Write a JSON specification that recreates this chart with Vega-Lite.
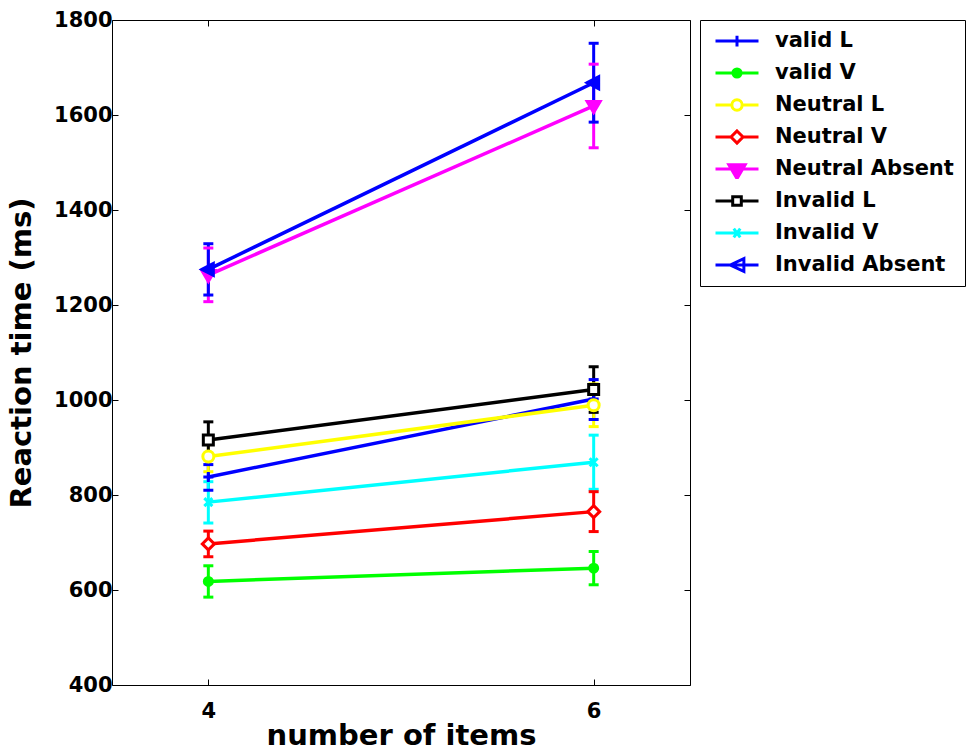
{
  "$schema": "https://vega.github.io/schema/vega-lite/v6.json",
  "width": 578,
  "height": 665,
  "autosize": {"type": "none"},
  "padding": {"left": 112, "top": 20, "right": 283, "bottom": 71},
  "background": "white",
  "data": {
    "values": [
      {"series": "valid L", "n": 4, "rt": 838, "lo": 810, "hi": 864},
      {"series": "valid L", "n": 6, "rt": 1002, "lo": 959, "hi": 1043},
      {"series": "valid V", "n": 4, "rt": 618, "lo": 585, "hi": 651},
      {"series": "valid V", "n": 6, "rt": 646, "lo": 611, "hi": 681},
      {"series": "Neutral L", "n": 4, "rt": 881, "lo": 849, "hi": 913},
      {"series": "Neutral L", "n": 6, "rt": 989, "lo": 944, "hi": 1034},
      {"series": "Neutral V", "n": 4, "rt": 697, "lo": 670, "hi": 724},
      {"series": "Neutral V", "n": 6, "rt": 765, "lo": 723, "hi": 807},
      {"series": "Neutral Absent", "n": 4, "rt": 1263, "lo": 1207, "hi": 1320},
      {"series": "Neutral Absent", "n": 6, "rt": 1619, "lo": 1531, "hi": 1707},
      {"series": "Invalid L", "n": 4, "rt": 916, "lo": 878, "hi": 954},
      {"series": "Invalid L", "n": 6, "rt": 1022, "lo": 974, "hi": 1070},
      {"series": "Invalid V", "n": 4, "rt": 785, "lo": 741, "hi": 828},
      {"series": "Invalid V", "n": 6, "rt": 869, "lo": 812, "hi": 926},
      {"series": "Invalid Absent", "n": 4, "rt": 1275, "lo": 1221, "hi": 1329},
      {"series": "Invalid Absent", "n": 6, "rt": 1668, "lo": 1585, "hi": 1751}
    ]
  },
  "config": {
    "view": {"stroke": "black", "strokeWidth": 1},
    "font": "DejaVu Sans",
    "axis": {
      "labelFont": "DejaVu Sans", "labelFontWeight": "bold", "labelFontSize": 21, "labelColor": "black",
      "titleFont": "DejaVu Sans", "titleFontWeight": "bold", "titleFontSize": 29, "titleColor": "black",
      "grid": false, "domain": false, "tickColor": "black", "tickWidth": 1, "tickSize": -6
    },
    "legend": {
      "orient": "right", "offset": 9, "padding": 11,
      "strokeColor": "black", "fillColor": "white",
      "labelFont": "DejaVu Sans", "labelFontWeight": "bold", "labelFontSize": 21, "labelColor": "black",
      "labelLimit": 400, "symbolSize": 1849, "symbolStrokeWidth": 3, "symbolOpacity": 1,
      "clipHeight": 20, "rowPadding": 11, "labelOffset": 15, "symbolOffset": 3
    }
  },
  "resolve": {
    "scale": {"shape": "independent", "fill": "independent", "stroke": "independent"},
    "axis": {"x": "independent", "y": "independent"}
  },
  "layer": [
    {
      "mark": {"type": "rule", "strokeWidth": 3},
      "encoding": {
        "x": {"field": "n", "type": "quantitative", "scale": {"domain": [3.5, 6.5], "nice": false, "zero": false},
              "axis": {"orient": "bottom", "values": [4, 6], "format": "d", "title": "number of items", "labelPadding": 21, "titlePadding": 0}},
        "y": {"field": "lo", "type": "quantitative", "scale": {"domain": [400, 1800], "nice": false, "zero": false},
              "axis": {"orient": "left", "values": [400, 600, 800, 1000, 1200, 1400, 1600, 1800], "format": "d", "title": "Reaction time (ms)", "labelPadding": 6, "titlePadding": 17}},
        "y2": {"field": "hi"},
        "color": {"field": "series", "type": "nominal",
                  "scale": {"domain": ["valid L", "valid V", "Neutral L", "Neutral V", "Neutral Absent", "Invalid L", "Invalid V", "Invalid Absent"],
                            "range": ["#0000ff", "#00ff00", "#ffff00", "#ff0000", "#ff00ff", "#000000", "#00ffff", "#0000ff"]},
                  "legend": null}
      }
    },
    {
      "mark": {"type": "point", "shape": "stroke", "size": 100, "strokeWidth": 3, "filled": false, "opacity": 1},
      "encoding": {
        "x": {"field": "n", "type": "quantitative", "axis": {"orient": "top", "values": [4, 6], "labels": false, "title": null}},
        "y": {"field": "lo", "type": "quantitative", "axis": {"orient": "right", "values": [400, 600, 800, 1000, 1200, 1400, 1600, 1800], "labels": false, "title": null}},
        "color": {"field": "series", "type": "nominal", "legend": null}
      }
    },
    {
      "mark": {"type": "point", "shape": "stroke", "size": 100, "strokeWidth": 3, "filled": false, "opacity": 1},
      "encoding": {
        "x": {"field": "n", "type": "quantitative", "axis": null},
        "y": {"field": "hi", "type": "quantitative", "axis": null},
        "color": {"field": "series", "type": "nominal", "legend": null}
      }
    },
    {
      "mark": {"type": "line", "strokeWidth": 3.5},
      "encoding": {
        "x": {"field": "n", "type": "quantitative", "axis": null},
        "y": {"field": "rt", "type": "quantitative", "axis": null},
        "color": {"field": "series", "type": "nominal", "legend": null}
      }
    },
    {
      "mark": {"type": "point", "size": 400, "strokeWidth": 3, "filled": false, "opacity": 1},
      "encoding": {
        "x": {"field": "n", "type": "quantitative", "axis": null},
        "y": {"field": "rt", "type": "quantitative", "axis": null},
        "color": {"field": "series", "type": "nominal", "legend": null},
        "shape": {"field": "series", "type": "nominal", "legend": null,
                  "scale": {"domain": ["valid L", "valid V", "Neutral L", "Neutral V", "Neutral Absent", "Invalid L", "Invalid V", "Invalid Absent"],
                            "range": ["M-0.5,0H0.5M0,-0.5V0.5",
                                      "M0.4,0A0.4,0.4,0,1,1,-0.4,0A0.4,0.4,0,1,1,0.4,0Z",
                                      "M0.55,0A0.55,0.55,0,1,1,-0.55,0A0.55,0.55,0,1,1,0.55,0Z",
                                      "M0,-0.6L0.6,0L0,0.6L-0.6,0Z",
                                      "M-0.65,-0.45L0.65,-0.45L0,0.65Z",
                                      "M-0.5,-0.5H0.5V0.5H-0.5Z",
                                      "M-0.4,-0.4L0.4,0.4M-0.4,0.4L0.4,-0.4",
                                      "M-0.65,0L0.5,-0.6L0.5,0.6Z"]}},
        "fill": {"field": "series", "type": "nominal", "legend": null,
                 "scale": {"domain": ["valid L", "valid V", "Neutral L", "Neutral V", "Neutral Absent", "Invalid L", "Invalid V", "Invalid Absent"],
                           "range": ["#0000ff", "#00ff00", "#ffffff", "#ffffff", "#ff00ff", "#ffffff", "#00ffff", "#0000ff"]}}
      }
    },
    {
      "mark": {"type": "point", "size": 0, "strokeWidth": 3, "filled": false},
      "encoding": {
        "x": {"field": "n", "type": "quantitative", "axis": null},
        "y": {"field": "rt", "type": "quantitative", "axis": null},
        "stroke": {"field": "series", "type": "nominal", "legend": {"title": null},
                   "scale": {"domain": ["valid L", "valid V", "Neutral L", "Neutral V", "Neutral Absent", "Invalid L", "Invalid V", "Invalid Absent"],
                             "range": ["#0000ff", "#00ff00", "#ffff00", "#ff0000", "#ff00ff", "#000000", "#00ffff", "#0000ff"]}},
        "fill": {"field": "series", "type": "nominal", "legend": {"title": null},
                 "scale": {"domain": ["valid L", "valid V", "Neutral L", "Neutral V", "Neutral Absent", "Invalid L", "Invalid V", "Invalid Absent"],
                           "range": ["#0000ff", "#00ff00", "#ffffff", "#ffffff", "#ff00ff", "#ffffff", "#00ffff", "#ffffff"]}},
        "shape": {"field": "series", "type": "nominal", "legend": {"title": null},
                  "scale": {"domain": ["valid L", "valid V", "Neutral L", "Neutral V", "Neutral Absent", "Invalid L", "Invalid V", "Invalid Absent"],
                            "range": ["M-1,0H1M0,-0.25V0.25",
                                      "M-1,0H1M0.19,0A0.19,0.19,0,1,1,-0.19,0A0.19,0.19,0,1,1,0.19,0Z",
                                      "M-1,0H-0.24M0.24,0H1M0.24,0A0.24,0.24,0,1,1,-0.24,0A0.24,0.24,0,1,1,0.24,0Z",
                                      "M-1,0H-0.28M0.28,0H1M0,-0.28L0.28,0L0,0.28L-0.28,0Z",
                                      "M-1,0H1M-0.38,-0.2L0.38,-0.2L0,0.45Z",
                                      "M-1,0H-0.2M0.2,0H1M-0.2,-0.2H0.2V0.2H-0.2Z",
                                      "M-1,0H1M-0.15,-0.2L0.15,0.2M-0.15,0.2L0.15,-0.2",
                                      "M-1,0H1M-0.32,0L0.32,-0.3L0.32,0.3Z"]}}
      }
    }
  ]
}
